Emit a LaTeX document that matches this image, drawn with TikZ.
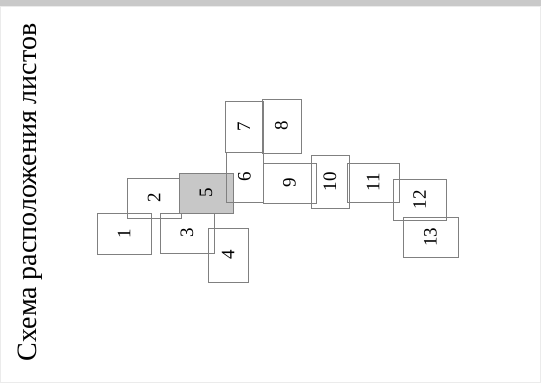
\documentclass[tikz,border=0pt]{standalone}
\usepackage{fontspec}
\setmainfont{Liberation Serif}
\tikzset{
  sheet/.style={draw=black!50, line width=0.9pt, inner sep=0pt, font=\fontsize{19}{19}\selectfont},
  shaded/.style={sheet, fill=black!22},
  titletext/.style={rotate=90, anchor=base, inner sep=0pt, font=\fontsize{28}{28}\selectfont},
}
\newcommand{\rot}[1]{\rotatebox{90}{#1}}
\begin{document}
\begin{tikzpicture}[x=1pt,y=-1pt]
\useasboundingbox (0,0) rectangle (541,383);
\fill[white] (0,0) rectangle (541,383);
\fill[black!21] (0,0) rectangle (541,6);
\draw[black!8, line width=1pt] (0.5,6) rectangle (540.5,382.5);
\node[titletext] (title) at (36,192.5) {Схема расположения листов};
% sheets
\node[sheet, minimum width=54pt, minimum height=41pt] (b1) at (124,233.5) {\rot{1}};
\node[sheet, minimum width=54pt, minimum height=40pt] (b2) at (154,198) {\rot{2}};
\node[sheet, minimum width=54pt, minimum height=40pt] (b3) at (187,233) {\rot{3}};
\node[sheet, minimum width=40pt, minimum height=54pt] (b4) at (228,255) {\rot{4}};
\node[shaded, minimum width=54pt, minimum height=40pt] (b5) at (206,193) {\rot{5}};
\node[sheet, minimum width=37pt, minimum height=50pt] (b6) at (244.5,177) {\rot{6}};
\node[sheet, minimum width=38pt, minimum height=51pt] (b7) at (244,126.5) {\rot{7}};
\node[sheet, minimum width=39pt, minimum height=54pt] (b8) at (281.5,126) {\rot{8}};
\node[sheet, minimum width=53pt, minimum height=40pt] (b9) at (289.5,183) {\rot{9}};
\node[sheet, minimum width=38pt, minimum height=53pt] (b10) at (330,181.5) {\rot{10}};
\node[sheet, minimum width=52pt, minimum height=39pt] (b11) at (373,182.5) {\rot{11}};
\node[sheet, minimum width=53pt, minimum height=41pt] (b12) at (419.5,199.5) {\rot{12}};
\node[sheet, minimum width=55pt, minimum height=40pt] (b13) at (430.5,237) {\rot{13}};
\end{tikzpicture}
\end{document}
